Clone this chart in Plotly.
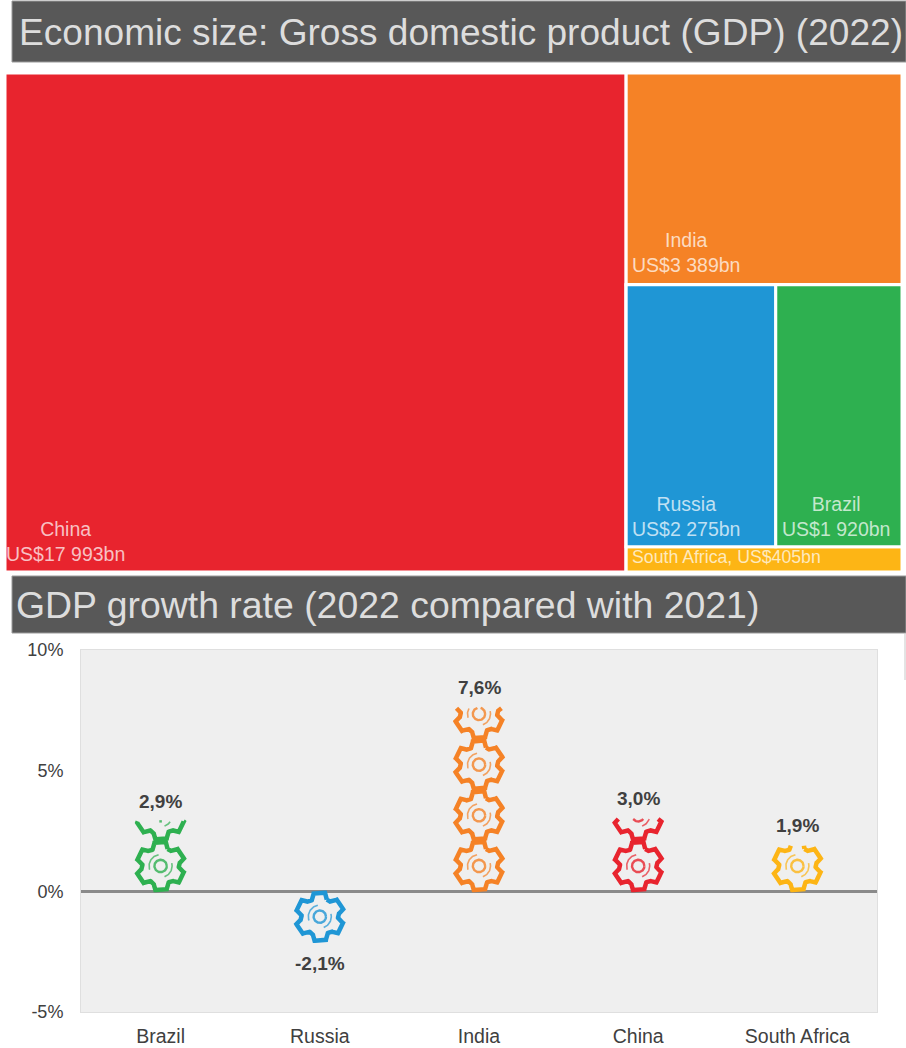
import math
import numpy as np
import plotly.graph_objects as go

W, H = 906, 1048

TITLE_TOP = "Economic size: Gross domestic product (GDP) (2022)"
TITLE_BOTTOM = "GDP growth rate (2022 compared with 2021)"

gdp_countries = ["China", "India", "Russia", "Brazil", "South Africa"]
gdp_values = [17993, 3389, 2275, 1920, 405]
gdp_labels = ["China<br>US$17 993bn", "India<br>US$3 389bn", "Russia<br>US$2 275bn",
              "Brazil<br>US$1 920bn", "South Africa, US$405bn"]
gdp_colors = ["#E8242E", "#F58226", "#1F96D5", "#2EB050", "#FDB515"]
# grouping nodes that keep the tiles in the original arrangement
gdp_parents = ["", "Others", "Big three", "Big three", "Lower"]
group_nodes = ["Others", "Lower", "Big three"]
group_parents = ["", "Others", "Lower"]

growth_countries = ["Brazil", "Russia", "India", "China", "South Africa"]
growth_values = [2.9, -2.1, 7.6, 3.0, 1.9]
growth_labels = ["2,9%", "-2,1%", "7,6%", "3,0%", "1,9%"]
growth_colors = ["#2EB050", "#1F96D5", "#F58226", "#E8242E", "#FDB515"]
y_ticks = [-5, 0, 5, 10]
y_tick_labels = ["-5%", "0%", "5%", "10%"]
GEAR_UNIT = 2.1   # one gear stands for this many percentage points

FONT = "Liberation Sans"

# plot-area geometry
PX = (81, 877)
PY = (650, 1012)
PX_PER_X = (PX[1] - PX[0]) / 5
PX_PER_Y = (PY[1] - PY[0]) / 15


def densify(pts, step=0.4):
    out = []
    for (x0, y0), (x1, y1) in zip(pts[:-1], pts[1:]):
        n = max(1, int(math.hypot(x1 - x0, y1 - y0) / step))
        for i in range(n):
            t = i / n
            out.append((x0 + (x1 - x0) * t, y0 + (y1 - y0) * t))
    out.append(pts[-1])
    return out


def gear_outline():
    r0, r1, w0, w1 = 17.0, 24.0, 7.0, 6.0
    pts = []
    for k in range(6):
        a = math.radians(90 + 60 * k)
        c, s = math.cos(a), math.sin(a)
        for r, w in [(r0, -w0), (r1, -w1), (r1, w1), (r0, w0)]:
            pts.append((r * c - w * s, r * s + w * c))
    pts.append(pts[0])
    return densify(pts)


def arc(r, a0, a1):
    return [(r * math.cos(math.radians(a)), r * math.sin(math.radians(a)))
            for a in np.arange(a0, a1 + 1, 3)]


OUTLINE = gear_outline()
RING = arc(6.2, 0, 360)
ARCS = [arc(11.5, 100, 200), arc(11.5, -70, 15)]


def place(paths, idx, value):
    """Stack clipped glyphs from 0 up to value at category position idx."""
    sign = 1 if value >= 0 else -1
    count = math.ceil(abs(value) / GEAR_UNIT - 1e-9)
    xs, ys = [], []
    for n in range(count):
        cy = (n + 0.5) * GEAR_UNIT * sign
        for path in paths:
            for (px, py) in path:
                y = cy + py / PX_PER_Y
                if abs(y) > abs(value) or y * sign < 0:
                    xs.append(None)
                    ys.append(None)
                else:
                    xs.append(idx + px / PX_PER_X)
                    ys.append(y)
            xs.append(None)
            ys.append(None)
    return xs, ys


fig = go.Figure()

# the smallest tile is listed last so that it is laid out below its sibling group
fig.add_trace(go.Treemap(
    labels=gdp_countries[:4] + group_nodes + gdp_countries[4:],
    parents=gdp_parents[:4] + group_parents + gdp_parents[4:],
    values=gdp_values[:4] + [0] * len(group_nodes) + gdp_values[4:],
    branchvalues="remainder",
    textinfo="none",
    marker=dict(colors=gdp_colors[:4] + ["white"] * len(group_nodes) + gdp_colors[4:], depthfade=False,
                line=dict(color="white", width=3), pad=dict(t=0, l=0, r=0, b=0)),
    tiling=dict(packing="squarify", squarifyratio=1, pad=0),
    pathbar=dict(visible=False),
    domain=dict(x=[5 / W, 902 / W], y=[(H - 572) / H, (H - 73) / H]),
    sort=False,
    hoverinfo="label+value",
))

for i, (name, val, col) in enumerate(zip(growth_countries, growth_values, growth_colors)):
    xs, ys = place([OUTLINE], i, val)
    fig.add_trace(go.Scatter(x=xs, y=ys, mode="lines", name=name, showlegend=False,
                             line=dict(color=col, width=4.5), connectgaps=False,
                             xaxis="x", yaxis="y", hoverinfo="skip"))
    xs, ys = place([RING], i, val)
    fig.add_trace(go.Scatter(x=xs, y=ys, mode="lines", name=name, showlegend=False,
                             line=dict(color=col, width=2.4), opacity=0.8, connectgaps=False,
                             xaxis="x", yaxis="y", hoverinfo="skip"))
    xs, ys = place(ARCS, i, val)
    fig.add_trace(go.Scatter(x=xs, y=ys, mode="lines", name=name, showlegend=False,
                             line=dict(color=col, width=1.6), opacity=0.7, connectgaps=False,
                             xaxis="x", yaxis="y", hoverinfo="skip"))

value_ann = [
    dict(text=t, x=i, y=v, xref="x", yref="y", yshift=20 if v >= 0 else -21,
         xanchor="center", yanchor="middle", showarrow=False,
         font=dict(family=FONT, size=19, color="#404040", weight="bold"))
    for i, (t, v) in enumerate(zip(growth_labels, growth_values))
]

# tile captions: horizontal centre and vertical centre in page pixels
caption_px = [(65, 541), (686, 252.5), (686, 516), (836, 516), (726, 556.5)]
caption_ann = [
    dict(text=t, xref="paper", yref="paper", x=cx / W, y=(H - cy) / H, xanchor="center", yanchor="middle",
         align="center", showarrow=False,
         font=dict(family=FONT, size=19.5 if i < 4 else 17.7, color="rgba(255,255,255,0.72)"))
    for i, (t, (cx, cy)) in enumerate(zip(gdp_labels, caption_px))
]

fig.update_layout(
    width=W, height=H, margin=dict(l=0, r=0, t=0, b=0),
    paper_bgcolor="white", plot_bgcolor="#EFEFEF", showlegend=False,
    font=dict(family=FONT, color="#404040", size=18),
    xaxis=dict(domain=[PX[0] / W, PX[1] / W], range=[-0.5, 4.5], automargin=False,
               tickmode="array", tickvals=list(range(5)), ticktext=growth_countries,
               tickfont=dict(size=19.5, color="#404040"), showgrid=False, zeroline=False,
               ticks="outside", ticklen=7, tickcolor="rgba(0,0,0,0)",
               showline=True, linecolor="#DFDFDF", linewidth=1, mirror=True, fixedrange=True),
    yaxis=dict(domain=[(H - PY[1]) / H, (H - PY[0]) / H], range=[-5, 10], automargin=False,
               tickmode="array", tickvals=y_ticks, ticktext=y_tick_labels,
               tickfont=dict(size=18, color="#404040"), showgrid=False,
               zeroline=True, zerolinecolor="#8A8A8A", zerolinewidth=2.5,
               ticks="outside", ticklen=13, tickcolor="rgba(0,0,0,0)",
               showline=True, linecolor="#DFDFDF", linewidth=1, mirror=True, fixedrange=True),
    shapes=[
        dict(type="rect", xref="paper", yref="paper", x0=12 / W, x1=1, y0=(H - 62) / H, y1=(H - 1) / H,
             fillcolor="#585858", line=dict(color="#9A9A9A", width=1), layer="below"),
        dict(type="rect", xref="paper", yref="paper", x0=12 / W, x1=1, y0=(H - 633) / H, y1=(H - 576) / H,
             fillcolor="#585858", line=dict(color="#9A9A9A", width=1), layer="below"),
        dict(type="line", xref="paper", yref="paper", x0=905 / W, x1=905 / W, y0=(H - 680) / H, y1=(H - 633) / H,
             line=dict(color="#C8C8C8", width=1)),
    ],
    annotations=[
        dict(text=TITLE_TOP, xref="paper", yref="paper", x=17 / W, y=(H - 32) / H, xanchor="left", yanchor="middle",
             showarrow=False, font=dict(family=FONT, size=37.1, color="#DDDDDD")),
        dict(text=TITLE_BOTTOM, xref="paper", yref="paper", x=14 / W, y=(H - 605) / H, xanchor="left", yanchor="middle",
             showarrow=False, font=dict(family=FONT, size=37.4, color="#DDDDDD")),
    ] + caption_ann + value_ann,
)

fig.write_html("out.html", post_script="document.body.style.margin='0';document.body.style.overflow='hidden';",
               config=dict(displayModeBar=False))
